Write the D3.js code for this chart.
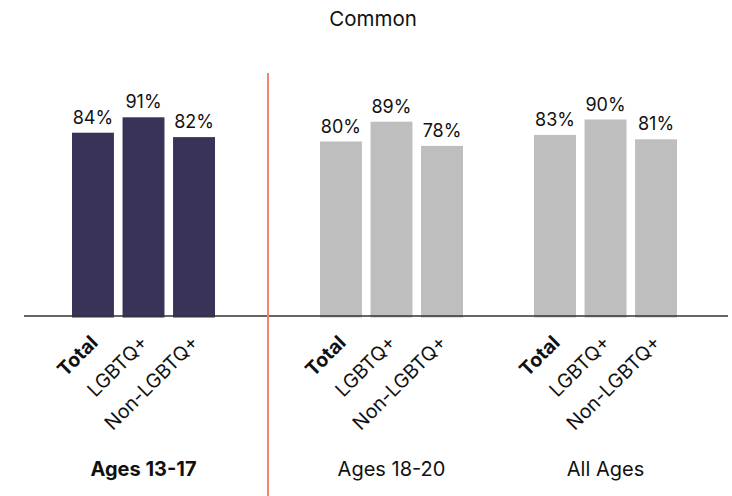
<!DOCTYPE html>
<html>
<head>
<meta charset="utf-8">
<script src="https://cdn.jsdelivr.net/npm/d3@7"></script>
<style>
  html, body { margin: 0; padding: 0; background: #fff; }
  svg { display: block; font-family: Inter, "Noto Sans", sans-serif; }
</style>
</head>
<body>
<svg id="chart" width="732" height="496"></svg>
<script>
// Share who say it is common, by age group and identity
const title = "Common";
const groups = ["Ages 13-17", "Ages 18-20", "All Ages"];
const subgroups = ["Total", "LGBTQ+", "Non-LGBTQ+"];
const values = [
  [84, 91, 82],
  [80, 89, 78],
  [83, 90, 81]
];
const highlightGroup = "Ages 13-17";

const W = 732, H = 496;
const svg = d3.select("#chart");

const colorHi = "#383357";
const colorLo = "#bebebe";
const dividerColor = "#f5846c";

// Left panel holds the highlighted group, right panel the others
const dividerX = 268;
const xLeft = d3.scaleBand().domain(groups.slice(0, 1)).range([72, 215]);
const xRight = d3.scaleBand().domain(groups.slice(1)).range([320, 677]).paddingInner(0.332);
const groupX = g => groups.indexOf(g) === 0 ? xLeft(g) : xRight(g);
const groupW = g => groups.indexOf(g) === 0 ? xLeft.bandwidth() : xRight.bandwidth();

const xInner = d3.scaleBand().domain(subgroups).range([0, 143]).paddingInner(0.17);
const y = d3.scaleLinear().domain([0, 100]).range([317.5, 97.5]);

// Title
svg.append("text")
  .attr("x", 373).attr("y", 26)
  .attr("text-anchor", "middle")
  .attr("font-size", 20.5)
  .attr("fill", "#111")
  .text(title);

const rows = groups.flatMap((g, gi) => subgroups.map((s, si) => ({ g, s, v: values[gi][si] })));

const gx = d => groupX(d.g) + (groupW(d.g) - 143) / 2 + xInner(d.s);

// Bars
svg.append("g").selectAll("rect").data(rows).join("rect")
  .attr("x", d => gx(d))
  .attr("y", d => y(d.v))
  .attr("width", xInner.bandwidth())
  .attr("height", d => y(0) - y(d.v))
  .attr("fill", d => d.g === highlightGroup ? colorHi : colorLo);

// Value labels
svg.append("g").selectAll("text").data(rows).join("text")
  .attr("x", d => gx(d) + xInner.bandwidth() / 2)
  .attr("y", d => y(d.v) - 9)
  .attr("text-anchor", "middle")
  .attr("font-size", 18)
  .attr("fill", "#111")
  .text(d => d.v + "%");

// Baseline
svg.append("line")
  .attr("x1", 24).attr("x2", 728)
  .attr("y1", 316).attr("y2", 316)
  .attr("stroke", "#333").attr("stroke-width", 1.3);

// Divider between panels
svg.append("line")
  .attr("x1", dividerX).attr("x2", dividerX)
  .attr("y1", 73).attr("y2", H)
  .attr("stroke", dividerColor).attr("stroke-width", 2);

// Rotated category labels
svg.append("g").selectAll("text").data(rows).join("text")
  .attr("transform", d => `translate(${gx(d) + xInner.bandwidth() / 2 + 6},${344}) rotate(-45)`)
  .attr("text-anchor", "end")
  .attr("font-size", 19.5)
  .attr("font-weight", d => d.s === "Total" ? 700 : 400)
  .attr("fill", "#111")
  .text(d => d.s);

// Group labels
svg.append("g").selectAll("text").data(groups).join("text")
  .attr("x", g => groupX(g) + groupW(g) / 2)
  .attr("y", 476)
  .attr("text-anchor", "middle")
  .attr("font-size", 20)
  .attr("font-weight", g => g === highlightGroup ? 700 : 400)
  .attr("fill", "#111")
  .text(g => g);
</script>
</body>
</html>
